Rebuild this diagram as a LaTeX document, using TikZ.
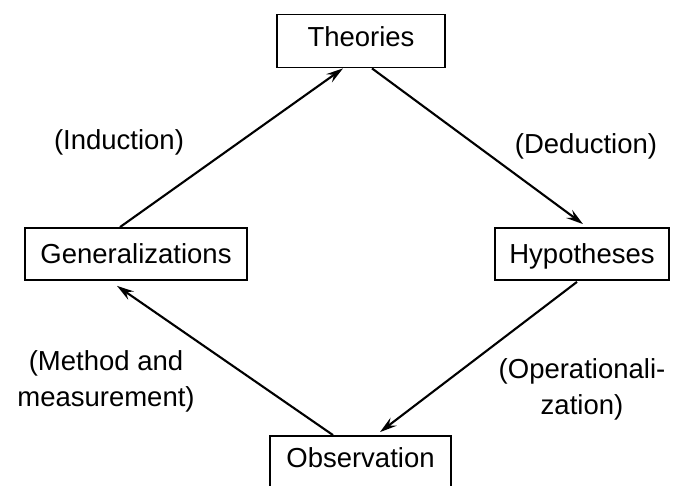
\documentclass[tikz,border=0pt]{standalone}
\usepackage{fontspec}
\setmainfont{Liberation Sans}
\usetikzlibrary{arrows.meta}
\begin{document}
\begin{tikzpicture}[x=1pt,y=-1pt,
  every node/.style={font=\fontsize{27.5}{36}\selectfont},
  stagebox/.style={draw, line width=1.8pt, inner sep=0pt, anchor=center,
    text height=19.5pt, text depth=0pt},
  flow/.style={line width=2.1pt, -{Stealth[length=17pt,width=10pt,inset=6pt]}},
  caption/.style={align=center, inner sep=0pt}]
  \useasboundingbox (0,0) rectangle (673,486);

  % the four stages of the research cycle
  \node[stagebox, minimum width=168pt, minimum height=53pt, text depth=7.5pt] (theo) at (361,41) {Theories};
  \node[stagebox, minimum width=222pt, minimum height=52pt] (gen) at (136,254) {Generalizations};
  \node[stagebox, minimum width=174pt, minimum height=52pt] (hyp) at (582,254) {Hypotheses};
  % the lower box runs past the bottom edge of the page
  \node[stagebox, minimum width=181pt, minimum height=56pt, text depth=11.5pt] (obs) at (360.5,464) {Observation};

  % transitions between stages
  \draw[flow] ([xshift=-16pt]gen.north) -- ([xshift=-18pt]theo.south);
  \draw[flow] ([xshift=11pt]theo.south) -- ([xshift=1pt,yshift=3pt]hyp.north);
  \draw[flow] ([xshift=-5pt,yshift=-1pt]hyp.south) -- ([xshift=19.5pt,yshift=3pt]obs.north);
  \draw[flow] ([xshift=-27.5pt]obs.north) -- ([xshift=-19pt,yshift=-5pt]gen.south);

  % transition labels
  \node[caption, anchor=base] (ind) at (119,149.5) {(Induction)};
  \node[caption, anchor=base] (ded) at (586,154) {(Deduction)};
  \node[caption] (meth) at (106,381) {(Method and\\measurement)};
  \node[caption] (oper) at (582,389) {(Operationali-\\zation)};
\end{tikzpicture}
\end{document}
